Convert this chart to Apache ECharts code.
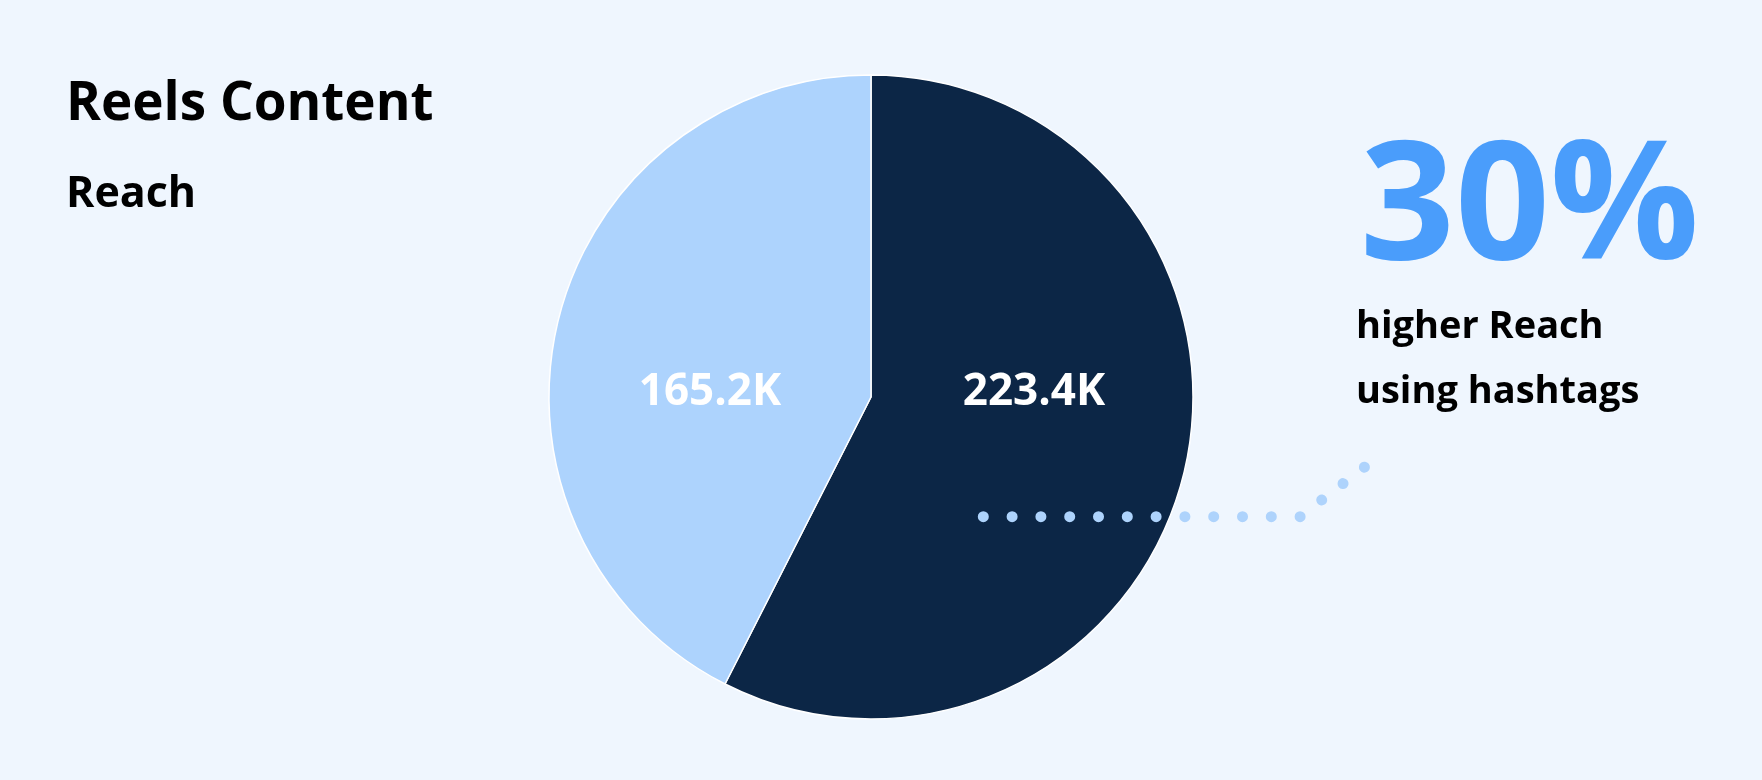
<!DOCTYPE html>
<html>
<head>
<meta charset="utf-8">
<script src="https://cdn.jsdelivr.net/npm/echarts@6/dist/echarts.min.js"></script>
<style>
html,body{margin:0;padding:0;background:#EFF6FE;}
#chart{width:1762px;height:780px;}
</style>
</head>
<body>
<div id="chart"></div>
<script>
// ---- data ----
const categories = ['With hashtags', 'Without hashtags'];
const reachValues = [223.4, 165.2];          // thousands
const sliceColors = ['#0C2646', '#ADD3FD'];
const headline = '30%';
const headlineNote = ['higher Reach', 'using hashtags'];

const FONT = "'Open Sans', 'Noto Sans', sans-serif";
const chart = echarts.init(document.getElementById('chart'), null, {renderer: 'canvas'});

const labelOffsets = [[163, -5], [-161, -5]];
const dotStyle = {stroke: '#AED3FC', lineWidth: 11, lineCap: 'round', fill: null};

const option = {
  backgroundColor: '#EFF6FE',
  animation: false,
  title: [
    {text: 'Reels Content', left: 61, top: 73,
     textStyle: {fontFamily: FONT, fontWeight: 'bold', fontSize: 53, color: '#000'}},
    {text: 'Reach', left: 61, top: 168,
     textStyle: {fontFamily: FONT, fontWeight: 'bold', fontSize: 43, color: '#000'}},
    {text: headline, left: 1355, top: 124,
     textStyle: {fontFamily: FONT, fontWeight: 'bold', fontSize: 166, color: '#4A9DFB'}},
    {text: headlineNote.join('\n'), left: 1351, top: 290,
     textStyle: {fontFamily: FONT, fontWeight: 'bold', fontSize: 38, lineHeight: 65, color: '#000'}}
  ],
  graphic: [
    {
      type: 'polyline', z: 100,
      shape: {points: [[983.3, 516.7], [1302, 516.7]]},
      style: Object.assign({lineDash: [0.01, 28.79]}, dotStyle)
    },
    {
      type: 'polyline', z: 100,
      shape: {points: [[1321.7, 500], [1366, 466]]},
      style: Object.assign({lineDash: [0.01, 26.9]}, dotStyle)
    }
  ],
  series: [{
    type: 'pie',
    center: [871, 397],
    radius: 322,
    startAngle: 90,
    clockwise: true,
    silent: true,
    itemStyle: {borderColor: '#ffffff', borderWidth: 1.5},
    labelLine: {show: false},
    label: {
      show: true,
      position: 'center',
      formatter: p => p.value.toFixed(1) + 'K',
      fontFamily: FONT, fontWeight: 'bold', fontSize: 44, color: '#ffffff'
    },
    data: categories.map((c, i) => ({
      name: c,
      value: reachValues[i],
      itemStyle: {color: sliceColors[i]},
      label: {offset: labelOffsets[i]}
    }))
  }]
};
chart.setOption(option);
</script>
</body>
</html>
